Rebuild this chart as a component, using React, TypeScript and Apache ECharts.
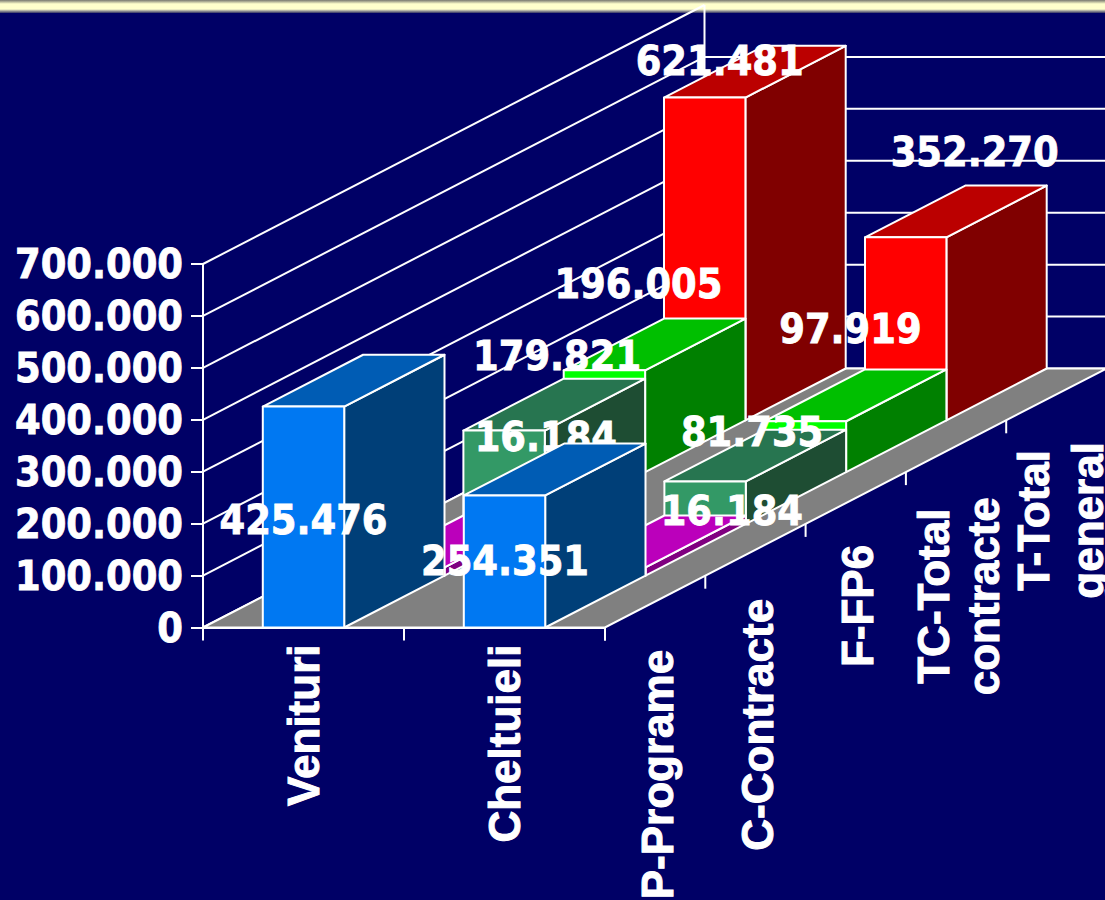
import React, { useEffect, useRef } from "react";
import * as echarts from "echarts";

const categories = ["Venituri", "Cheltuieli"];
const depthCategories = ["P-Programe", "C-Contracte", "F-FP6", "TC-Total\ncontracte", "T-Total\ngeneral"];
const programe = [425476, 254351];
const contracte = [16184, 16184];
const fp6 = [179821, 81735];
const totalContracte = [196005, 97919];
const totalGeneral = [621481, 352270];
const yTicks = [0, 100000, 200000, 300000, 400000, 500000, 600000, 700000];

const DX = 100.3;
const DY = -51.8;
const RIGHT = 1110;
const STROKE = "#ffffff";
const SW = 2;
const VALUE_FONT = '"DejaVu Sans Condensed", "DejaVu Sans", sans-serif';
const AXIS_FONT = '"Liberation Sans", Arial, sans-serif';

const fmt = (v: number) => (v === 0 ? "0" : (v / 1000).toFixed(3));

const rows = [
  { name: "P-Programe", row: 0, values: programe, front: "#0078F2", top: "#005CB4", side: "#003F78", off: [[0, 113], [0.5, 66]] },
  { name: "C-Contracte", row: 1, values: contracte, front: "#FF00FF", top: "#BB00BB", side: "#800080", off: [[142, -130.5], [127, -56.5]] },
  { name: "F-FP6", row: 2, values: fp6, front: "#339966", top: "#277550", side: "#1E4D33", off: [[53, -74.5], [47, -49.5]] },
  { name: "TC-Total contracte", row: 3, values: totalContracte, front: "#00FF00", top: "#00BF00", side: "#008000", off: [[34, -86.5], [45, -92]] },
  { name: "T-Total general", row: 4, values: totalGeneral, front: "#FF0000", top: "#BB0000", side: "#800000", off: [[15, -36.5], [69, -85.5]] },
];

const depthLayout = [
  { dx: 2, dy: 173, lh: 50 },
  { dx: 2, dy: 175, lh: 50 },
  { dx: 2, dy: 108, lh: 50 },
  { dx: 2, dy: 150, lh: 50 },
  { dx: 4, dy: 126, lh: 54 },
];

export default function App() {
  const ref = useRef<HTMLDivElement>(null);
  useEffect(() => {
    document.body.style.margin = "0";
    const chart = echarts.init(ref.current!, null, { renderer: "svg" });
    const maxTick = yTicks[yTicks.length - 1];

    const wallSeries: any = {
      type: "custom",
      silent: true,
      encode: { x: 0, y: 1 },
      data: yTicks.map((v) => [0, v]),
      renderItem: (params: any, api: any) => {
        const cs = params.coordSys;
        const v = api.value(1);
        const y = api.coord([0, v])[1];
        const x0 = cs.x;
        const n = depthCategories.length;
        const bx = x0 + n * DX;
        const by = y + n * DY;
        const line = (a: number[], b: number[]) => ({
          type: "line",
          shape: { x1: a[0], y1: a[1], x2: b[0], y2: b[1] },
          style: { stroke: STROKE, lineWidth: SW },
        });
        const children: any[] = [line([x0, y], [bx, by])];
        if (v !== maxTick) children.push(line([bx, by], [RIGHT, by]));
        if (v === 0) {
          const top = api.coord([0, maxTick])[1] + n * DY;
          children.push(line([bx, by], [bx, top]));
          const x1 = x0 + cs.width;
          children.push({
            type: "polygon",
            shape: { points: [[x0, y], [x1, y], [x1 + n * DX, by], [bx, by]] },
            style: { fill: "#808080", stroke: STROKE, lineWidth: SW },
          });
          for (let i = 0; i <= n; i++) {
            const tx = x1 + i * DX;
            const ty = y + i * DY;
            children.push(line([tx, ty], [tx, ty + 13]));
          }
        }
        return { type: "group", children };
      },
    };

    const barSeries: any[] = [...rows].reverse().map((r) => ({
      type: "custom",
      name: r.name,
      silent: true,
      encode: { x: 0, y: 1 },
      data: r.values.map((v, i) => [i, v]),
      renderItem: (_p: any, api: any) => {
        const i = api.value(0);
        const v = api.value(1);
        const w = api.size([1, 0])[0] * 0.405;
        const t = api.coord([i, v]);
        const b = api.coord([i, 0]);
        const ox = r.row * DX;
        const oy = r.row * DY;
        const l = t[0] - w / 2 + ox;
        const rr = t[0] + w / 2 + ox;
        const ty = t[1] + oy;
        const by = b[1] + oy;
        const poly = (points: number[][], fill: string) => ({
          type: "polygon",
          shape: { points },
          style: { fill, stroke: STROKE, lineWidth: SW, lineJoin: "round" },
        });
        return {
          type: "group",
          children: [
            poly([[rr, by], [rr + DX, by + DY], [rr + DX, ty + DY], [rr, ty]], r.side),
            poly([[l, ty], [rr, ty], [rr + DX, ty + DY], [l + DX, ty + DY]], r.top),
            poly([[l, by], [rr, by], [rr, ty], [l, ty]], r.front),
            {
              type: "text",
              x: (l + rr) / 2 + r.off[i][0],
              y: ty + r.off[i][1],
              style: {
                text: fmt(v),
                fill: "#ffffff",
                stroke: "#ffffff",
                lineWidth: 0.8,
                fontSize: 41,
                fontWeight: "bold",
                fontFamily: VALUE_FONT,
                align: "center",
                verticalAlign: "middle",
              },
            },
          ],
        };
      },
    }));

    const depthLabelSeries: any = {
      type: "custom",
      silent: true,
      encode: { x: 0, y: 1 },
      data: depthCategories.map((_, i) => [0, 0, i]),
      renderItem: (params: any, api: any) => {
        const i = api.value(2);
        const b = api.coord([0, 0]);
        const x1 = params.coordSys.x + params.coordSys.width;
        const lay = depthLayout[i];
        return {
          type: "text",
          x: x1 + (i + 0.5) * DX + lay.dx,
          y: b[1] + (i + 0.5) * DY + lay.dy,
          rotation: Math.PI / 2,
          style: {
            text: depthCategories[i],
            fill: "#ffffff",
            stroke: "#ffffff",
            lineWidth: 1,
            fontSize: 44,
            fontWeight: "bold",
            fontFamily: AXIS_FONT,
            lineHeight: lay.lh,
            align: "center",
            verticalAlign: "middle",
          },
        };
      },
    };

    chart.setOption({
      animation: false,
      backgroundColor: "#000066",
      tooltip: { show: false },
      legend: { show: false },
      grid: { left: 203, right: 1105 - 605, top: 264, bottom: 900 - 627.5, containLabel: false },
      xAxis: {
        type: "category",
        data: categories,
        axisLine: { show: true, lineStyle: { color: STROKE, width: SW } },
        axisTick: { show: true, alignWithLabel: false, length: 13, lineStyle: { color: STROKE, width: SW } },
        axisLabel: {
          rotate: 90,
          margin: 17,
          interval: 0,
          color: "#ffffff",
          textBorderColor: "#ffffff",
          textBorderWidth: 1,
          fontSize: 44,
          fontWeight: "bold",
          fontFamily: AXIS_FONT,
        },
        splitLine: { show: false },
      },
      yAxis: {
        type: "value",
        min: 0,
        max: 700000,
        interval: 100000,
        axisLine: { show: true, lineStyle: { color: STROKE, width: SW } },
        axisTick: { show: true, length: 12, lineStyle: { color: STROKE, width: SW } },
        axisLabel: {
          margin: 20,
          padding: [2, 0, 0, 0],
          color: "#ffffff",
          textBorderColor: "#ffffff",
          textBorderWidth: 0.8,
          fontSize: 41,
          fontWeight: "bold",
          fontFamily: VALUE_FONT,
          formatter: (v: number) => fmt(v),
        },
        splitLine: { show: false },
      },
      graphic: [
        {
          type: "rect",
          left: 0,
          top: 0,
          shape: { width: 1105, height: 13 },
          z: 0,
          style: {
            fill: new echarts.graphic.LinearGradient(0, 0, 0, 1, [
              { offset: 0, color: "#77776F" },
              { offset: 0.3, color: "#FFFFCC" },
              { offset: 0.7, color: "#FFFFCC" },
              { offset: 1, color: "#333366" },
            ]),
          },
        },
      ],
      series: [wallSeries, ...barSeries, depthLabelSeries],
    });
    return () => chart.dispose();
  }, []);
  return <div ref={ref} style={{ position: "absolute", left: 0, top: 0, width: 1105, height: 900, overflow: "hidden" }} />;
}
